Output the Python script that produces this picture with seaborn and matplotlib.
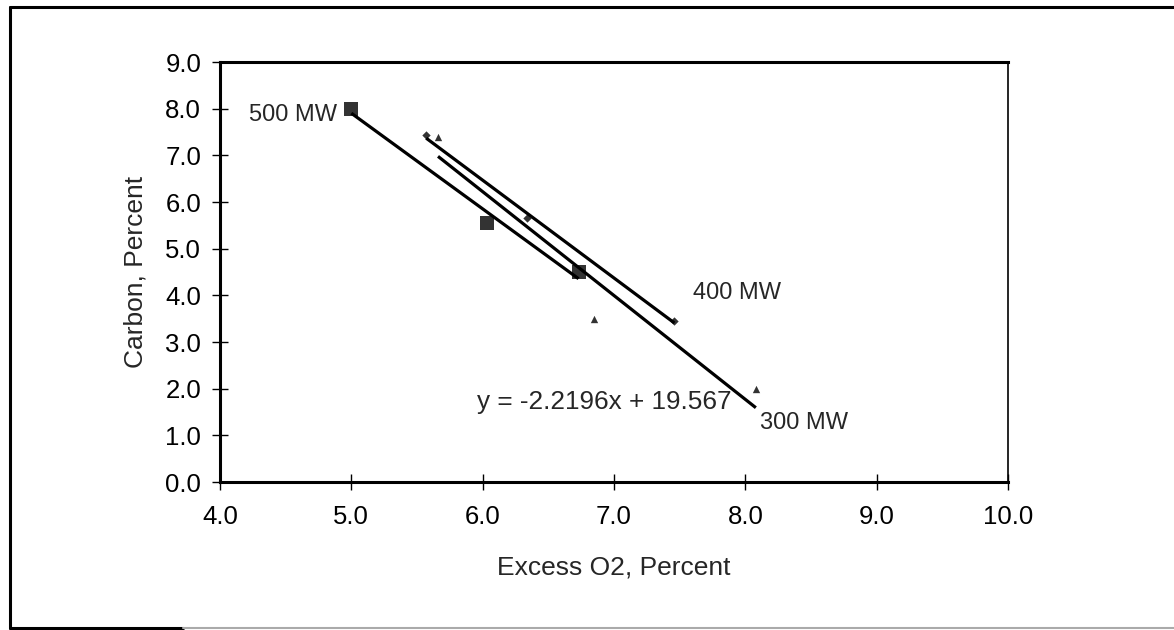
import matplotlib
matplotlib.use("Agg")
import matplotlib.pyplot as plt
from matplotlib.lines import Line2D
import seaborn as sns
import numpy as np

# Data
mw500_x = [5.00, 6.03, 6.73]
mw500_y = [8.00, 5.55, 4.50]
mw400_x = [5.57, 6.34, 7.46]
mw400_y = [7.43, 5.65, 3.45]
mw300_x = [5.66, 6.85, 8.08]
mw300_y = [7.40, 3.50, 2.00]

x_ticks = [4.0, 5.0, 6.0, 7.0, 8.0, 9.0, 10.0]
y_ticks = [0.0, 1.0, 2.0, 3.0, 4.0, 5.0, 6.0, 7.0, 8.0, 9.0]

sns.set_style("ticks")
plt.rcParams['font.family'] = ['Liberation Sans', 'DejaVu Sans']

W, H = 1174, 630
fig = plt.figure(figsize=(W / 100, H / 100), dpi=100)
ax = fig.add_axes([220 / W, 1 - 482 / H, (1008 - 220) / W, (482 - 62) / H])

line_kws = dict(lw=2.3, color='black', solid_capstyle='butt')
sns.regplot(x=mw500_x, y=mw500_y, ax=ax, ci=None, marker='s', color='black',
            scatter_kws=dict(s=90, linewidths=0), line_kws=line_kws)
sns.regplot(x=mw400_x, y=mw400_y, ax=ax, ci=None, marker='D', color='black',
            scatter_kws=dict(s=18, linewidths=0), line_kws=line_kws)
sns.regplot(x=mw300_x, y=mw300_y, ax=ax, ci=None, marker='^', color='black',
            scatter_kws=dict(s=28, linewidths=0), line_kws=line_kws)

ax.set_xlim(4.0, 10.0)
ax.set_ylim(0.0, 9.0)
ax.set_xticks(x_ticks)
ax.set_yticks(y_ticks)
ax.set_xticklabels([f"{v:.1f}" for v in x_ticks])
ax.set_yticklabels([f"{v:.1f}" for v in y_ticks])
ax.tick_params(direction='inout', length=11, width=1.0, labelsize=18.5,
               color='black', labelcolor='black')
ax.tick_params(axis='x', pad=11)
ax.tick_params(axis='y', pad=8)

for side in ['left', 'bottom', 'top']:
    ax.spines[side].set_visible(True)
    ax.spines[side].set_linewidth(2.2)
    ax.spines[side].set_color('black')
ax.spines['right'].set_visible(True)
ax.spines['right'].set_linewidth(1.2)
ax.spines['right'].set_color('black')

ax.set_xlabel("Excess O2, Percent", fontsize=19, labelpad=19)
ax.set_ylabel("Carbon, Percent", fontsize=19, labelpad=13)

ax.text(4.89, 7.86, "500 MW", fontsize=17, ha='right', va='center')
ax.text(7.60, 4.05, "400 MW", fontsize=17, ha='left', va='center')
ax.text(8.11, 1.26, "300 MW", fontsize=17, ha='left', va='center')
ax.text(6.93, 1.71, "y = -2.2196x + 19.567", fontsize=18.8, ha='center', va='center')

# Outer frame of the reference image
def px_line(x0, y0, x1, y1, color='black', lw=2.2):
    fig.add_artist(Line2D([x0 / W, x1 / W], [1 - y0 / H, 1 - y1 / H],
                          transform=fig.transFigure, color=color, lw=lw))

px_line(10, 7, W, 7)
px_line(10, 7, 10, 628)
px_line(10, 628, 183, 628)
px_line(183, 628, W, 628, color='#aaaaaa', lw=1.5)

fig.savefig("out.png", dpi=100)
